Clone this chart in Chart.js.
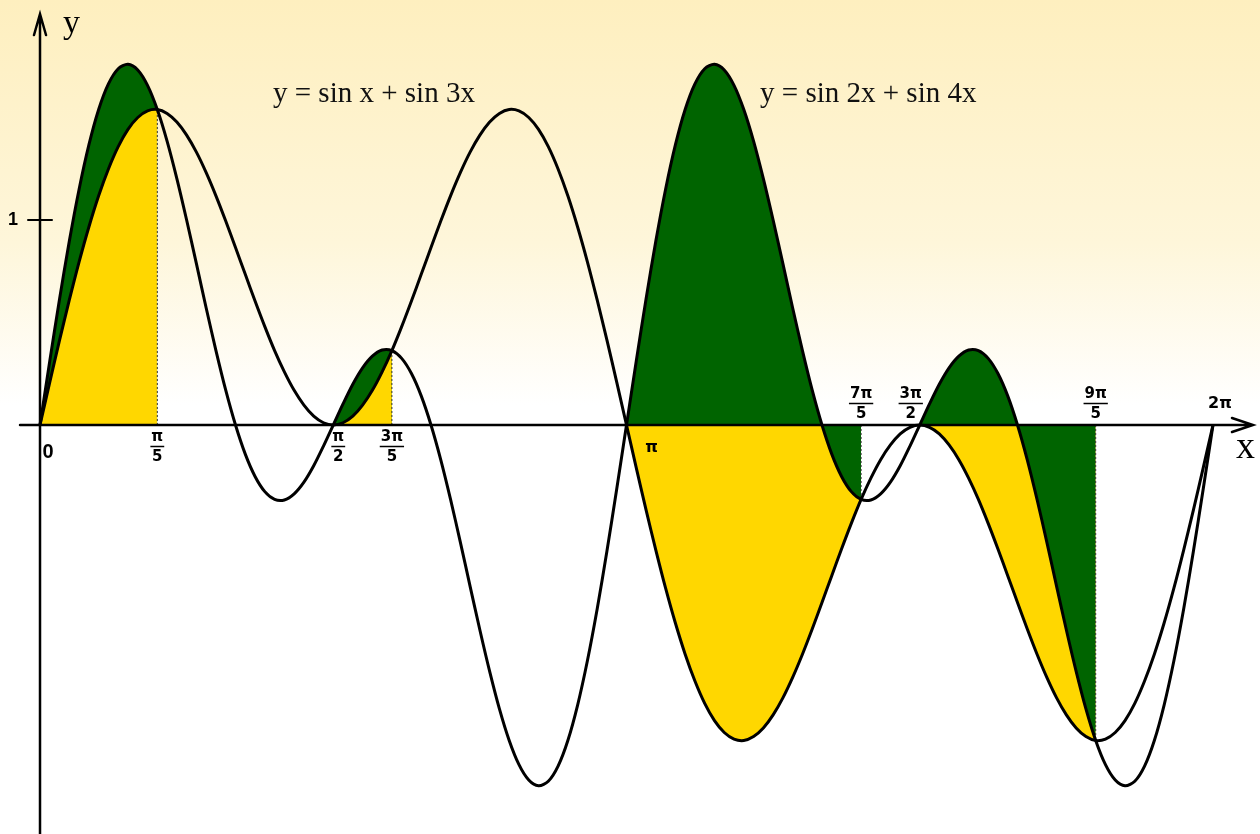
<!DOCTYPE html>
<html>
<head>
<meta charset="utf-8">
<title>sin x + sin 3x and sin 2x + sin 4x</title>
<script src="https://cdn.jsdelivr.net/npm/chart.js"></script>
<style>
  html, body { margin: 0; padding: 0; background: #fff; }
  #wrap { width: 1260px; height: 834px; }
</style>
</head>
<body>
<div id="wrap"><canvas id="grafica" width="1260" height="834"></canvas></div>
<script>
// both curves are sampled every π/60 from 0 to 2π
const SAMPLES_PER_PI = 60;

// y = sin x + sin 3x
const curveA = [
	0, 0.209, 0.414, 0.61, 0.796, 0.966, 1.118, 1.249, 1.358, 1.442,
	1.5, 1.532, 1.539, 1.52, 1.478, 1.414, 1.331, 1.231, 1.118, 0.995,
	0.866, 0.735, 0.605, 0.48, 0.363, 0.259, 0.169, 0.097, 0.043, 0.011,
	0, 0.011, 0.043, 0.097, 0.169, 0.259, 0.363, 0.48, 0.605, 0.735,
	0.866, 0.995, 1.118, 1.231, 1.331, 1.414, 1.478, 1.52, 1.539, 1.532,
	1.5, 1.442, 1.358, 1.249, 1.118, 0.966, 0.796, 0.61, 0.414, 0.209,
	0, -0.209, -0.414, -0.61, -0.796, -0.966, -1.118, -1.249, -1.358, -1.442,
	-1.5, -1.532, -1.539, -1.52, -1.478, -1.414, -1.331, -1.231, -1.118, -0.995,
	-0.866, -0.735, -0.605, -0.48, -0.363, -0.259, -0.169, -0.097, -0.043, -0.011,
	0, -0.011, -0.043, -0.097, -0.169, -0.259, -0.363, -0.48, -0.605, -0.735,
	-0.866, -0.995, -1.118, -1.231, -1.331, -1.414, -1.478, -1.52, -1.539, -1.532,
	-1.5, -1.442, -1.358, -1.249, -1.118, -0.966, -0.796, -0.61, -0.414, -0.209,
	0,
];

// y = sin 2x + sin 4x
const curveB = [
	0, 0.312, 0.615, 0.897, 1.15, 1.366, 1.539, 1.664, 1.738, 1.76,
	1.732, 1.657, 1.539, 1.385, 1.202, 1, 0.787, 0.571, 0.363, 0.17,
	0, -0.142, -0.251, -0.325, -0.363, -0.366, -0.336, -0.279, -0.199, -0.103,
	0, 0.103, 0.199, 0.279, 0.336, 0.366, 0.363, 0.325, 0.251, 0.142,
	0, -0.17, -0.363, -0.571, -0.787, -1, -1.202, -1.385, -1.539, -1.657,
	-1.732, -1.76, -1.738, -1.664, -1.539, -1.366, -1.15, -0.897, -0.615, -0.312,
	0, 0.312, 0.615, 0.897, 1.15, 1.366, 1.539, 1.664, 1.738, 1.76,
	1.732, 1.657, 1.539, 1.385, 1.202, 1, 0.787, 0.571, 0.363, 0.17,
	0, -0.142, -0.251, -0.325, -0.363, -0.366, -0.336, -0.279, -0.199, -0.103,
	0, 0.103, 0.199, 0.279, 0.336, 0.366, 0.363, 0.325, 0.251, 0.142,
	0, -0.17, -0.363, -0.571, -0.787, -1, -1.202, -1.385, -1.539, -1.657,
	-1.732, -1.76, -1.738, -1.664, -1.539, -1.366, -1.15, -0.897, -0.615, -0.312,
	0,
];

// shaded stretches, in multiples of π
const upperSpans = [[0, 1 / 5], [1 / 2, 3 / 5]];
const lowerSpans = [[1, 7 / 5], [3 / 2, 9 / 5]];

// dotted drop lines, in multiples of π
const dropLines = [1 / 5, 3 / 5, 7 / 5, 9 / 5];

// x axis ticks (multiples of π), numerators and denominators
const tickAt = [0, 1 / 5, 1 / 2, 3 / 5, 1, 7 / 5, 3 / 2, 9 / 5, 2];
const tickNum = ['0', 'π', 'π', '3π', 'π', '7π', '3π', '9π', '2π'];
const tickDen = ['', '5', '2', '5', '', '5', '2', '5', ''];

const yTicks = [1];

const labelA = 'y = sin x + sin 3x';
const labelB = 'y = sin 2x + sin 4x';

const VERDE = '#006400';
const AMARILLO = '#FFD700';
const CLEAR = 'rgba(0,0,0,0)';

const toPoints = (ys) => ys.map((y, i) => ({ x: (i * Math.PI) / SAMPLES_PER_PI, y: y }));

function dentro(spans, i0, i1) {
	return spans.some(([a, b]) => i0 >= Math.round(a * SAMPLES_PER_PI) && i1 <= Math.round(b * SAMPLES_PER_PI));
}

function sombrear(spans, color) {
	return (ctx) => (dentro(spans, ctx.p0DataIndex, ctx.p1DataIndex) ? color : CLEAR);
}

// invisible copies of the curves that only carry the fills
const relleno = {
	borderWidth: 0,
	borderColor: CLEAR,
	backgroundColor: CLEAR,
	pointRadius: 0,
	tension: 0.3,
	fill: 'origin',
};

const curva = {
	borderColor: '#000',
	borderWidth: 3,
	pointRadius: 0,
	tension: 0.3,
	fill: false,
	order: 0,
};

const lineasPunteadas = dropLines.map((m) => ({
	data: [
		{ x: m * Math.PI, y: 0 },
		{ x: m * Math.PI, y: curveA[Math.round(m * SAMPLES_PER_PI)] },
	],
	borderColor: '#333',
	borderWidth: 1,
	borderDash: [2, 2],
	pointRadius: 0,
	tension: 0,
	fill: false,
	order: 1,
}));

// background wash and hand drawn axes
const ejes = {
	id: 'ejes',
	beforeDraw(chart) {
		const { ctx, width, height } = chart;
		const y0 = chart.scales.y.getPixelForValue(0);
		ctx.save();
		ctx.fillStyle = '#fff';
		ctx.fillRect(0, 0, width, height);
		const grad = ctx.createLinearGradient(0, 0, 0, y0 - 20);
		grad.addColorStop(0, '#FEEFBF');
		grad.addColorStop(0.6, '#FEF6DA');
		grad.addColorStop(1, '#FFFFFF');
		ctx.fillStyle = grad;
		ctx.fillRect(0, 0, width, y0 - 20);
		ctx.restore();
	},
	afterDatasetsDraw(chart) {
		const { ctx, height, scales } = chart;
		const x0 = scales.x.getPixelForValue(0);
		const y0 = scales.y.getPixelForValue(0);
		const right = scales.x.getPixelForValue(2 * Math.PI) + 40;

		ctx.save();
		ctx.strokeStyle = '#000';
		ctx.lineWidth = 2.5;
		ctx.lineCap = 'round';

		// x axis
		ctx.beginPath();
		ctx.moveTo(x0 - 20, y0);
		ctx.lineTo(right, y0);
		ctx.moveTo(right - 21, y0 - 7);
		ctx.lineTo(right, y0);
		ctx.lineTo(right - 21, y0 + 7);
		ctx.stroke();

		// y axis
		ctx.beginPath();
		ctx.moveTo(x0, height);
		ctx.lineTo(x0, 14);
		ctx.moveTo(x0 - 6, 35);
		ctx.lineTo(x0, 14);
		ctx.lineTo(x0 + 6, 35);
		ctx.stroke();

		// y ticks
		ctx.lineWidth = 2;
		ctx.font = 'bold 18px "Liberation Sans"';
		ctx.fillStyle = '#000';
		ctx.textAlign = 'center';
		ctx.textBaseline = 'middle';
		yTicks.forEach((v) => {
			const py = scales.y.getPixelForValue(v);
			ctx.beginPath();
			ctx.moveTo(x0 - 12, py);
			ctx.lineTo(x0 + 12, py);
			ctx.stroke();
			ctx.fillText(String(v), x0 - 27, py);
		});
		ctx.restore();
	},
	afterDraw(chart) {
		const { ctx, scales } = chart;
		const y0 = scales.y.getPixelForValue(0);

		ctx.save();
		ctx.fillStyle = '#000';
		ctx.strokeStyle = '#000';
		ctx.textAlign = 'center';
		ctx.textBaseline = 'middle';

		// small nudges so the labels clear the curves
		const dx = [8, 0, 5, 0, 25, 0, -9, 0, 7];
		const arriba = [false, false, false, false, false, true, true, true, true];

		tickAt.forEach((m, i) => {
			const cx = scales.x.getPixelForValue(m * Math.PI) + dx[i];
			const num = tickNum[i];
			const den = tickDen[i];
			if (!den) {
				ctx.font = i === 0 ? 'bold 20px "Liberation Sans"' : 'bold 16px "DejaVu Sans"';
				const cy = arriba[i] ? y0 - 21 : y0 + (i === 0 ? 27 : 23);
				ctx.fillText(num, cx, cy);
				return;
			}
			ctx.font = 'bold 15px "DejaVu Sans"';
			const w = Math.max(ctx.measureText(num).width, ctx.measureText(den).width) + 2;
			const top = arriba[i] ? y0 - 31 : y0 + 12;
			ctx.fillText(num, cx, top);
			ctx.fillText(den, cx, top + 20);
			ctx.lineWidth = 1.5;
			ctx.beginPath();
			ctx.moveTo(cx - w / 2, top + 9.5);
			ctx.lineTo(cx + w / 2, top + 9.5);
			ctx.stroke();
		});

		// axis names
		ctx.font = '34px "Liberation Serif"';
		ctx.textAlign = 'left';
		ctx.textBaseline = 'alphabetic';
		ctx.fillText('y', scales.x.getPixelForValue(0) + 23, 33);
		ctx.font = '38px "Liberation Serif"';
		ctx.fillText('x', scales.x.getPixelForValue(2 * Math.PI) + 23, y0 + 33);

		// curve names
		ctx.font = '29px "Liberation Serif"';
		ctx.fillStyle = '#111';
		ctx.fillText(labelA, scales.x.getPixelForValue(1.248), scales.y.getPixelForValue(1.576));
		ctx.fillText(labelB, scales.x.getPixelForValue(3.857), scales.y.getPixelForValue(1.576));
		ctx.restore();
	},
};

const ctx = document.querySelector('#grafica');
const chart = new Chart(ctx, {
	type: 'line',
	data: {
		datasets: [
			{ ...curva, label: labelA, data: toPoints(curveA) },
			{ ...curva, label: labelB, data: toPoints(curveB) },
			...lineasPunteadas,
			// green between the axis and sin 2x + sin 4x on the lower stretches
			{ ...relleno, data: toPoints(curveB), segment: { backgroundColor: sombrear(lowerSpans, VERDE) }, order: 2 },
			// yellow between the axis and sin x + sin 3x
			{ ...relleno, data: toPoints(curveA), segment: { backgroundColor: sombrear(upperSpans.concat(lowerSpans), AMARILLO) }, order: 3 },
			// green under sin 2x + sin 4x on the upper stretches
			{ ...relleno, data: toPoints(curveB), segment: { backgroundColor: sombrear(upperSpans, VERDE) }, order: 4 },
		],
	},
	options: {
		responsive: false,
		devicePixelRatio: 1,
		animation: false,
		layout: { padding: 0 },
		plugins: {
			legend: { display: false },
			tooltip: { enabled: false },
		},
		scales: {
			x: { type: 'linear', min: -0.2143, max: 6.535, display: false },
			y: { type: 'linear', min: -1.9951, max: 2.0732, display: false },
		},
	},
	plugins: [ejes],
});
</script>
</body>
</html>
